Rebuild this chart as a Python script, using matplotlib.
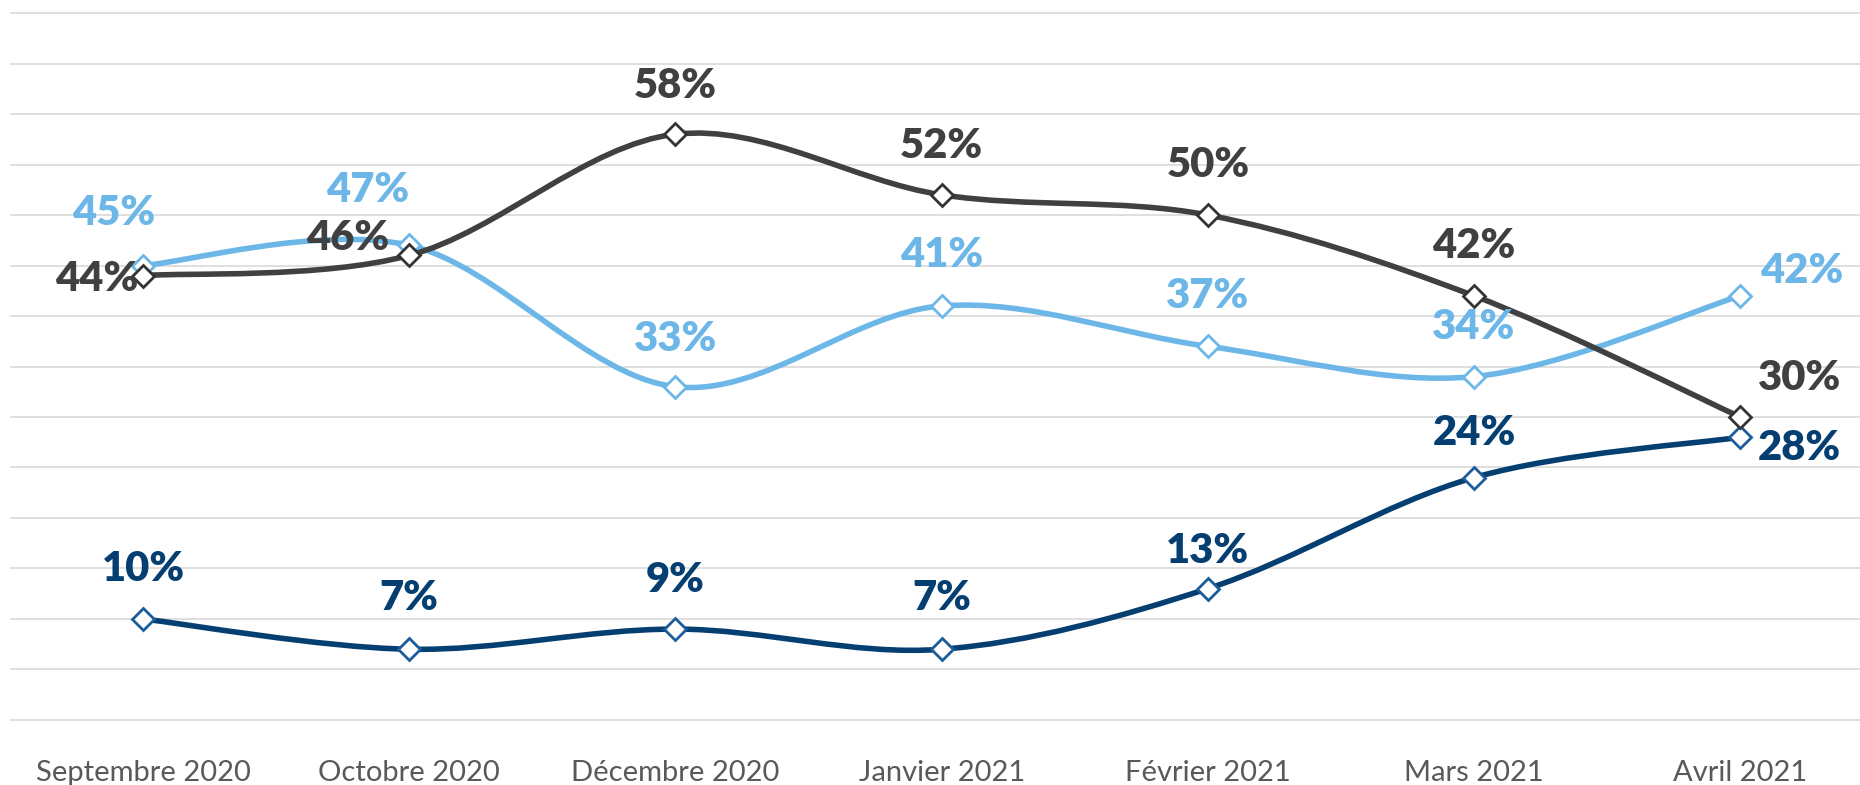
import numpy as np
import matplotlib.pyplot as plt
from matplotlib.path import Path
from matplotlib.patches import PathPatch


months = ['Septembre 2020', 'Octobre 2020', 'Décembre 2020', 'Janvier 2021',
          'Février 2021', 'Mars 2021', 'Avril 2021']
light_vals = [45, 47, 33, 41, 37, 34, 42]
gray_vals = [44, 46, 58, 52, 50, 42, 30]
navy_vals = [10, 7, 9, 7, 13, 24, 28]

light_col = '#6CB7E7'
gray_col = '#404040'
navy_col = '#053F72'
navy_edge = '#1A5C9C'

# label offsets in points (dx, dy)
k = 0.854
light_off = [(-25, 44), (-35, 47), (0, 40), (0, 43), (0, 42), (0, 42), (52, 21)]
gray_off = [(-39, -3), (-52, 15), (0, 41), (0, 41), (0, 42), (0, 42), (50, 33)]
navy_off = [(0, 42), (0, 43), (0, 41), (0, 43), (0, 32), (0, 38), (50, -9)]

plt.rcParams['font.family'] = ['Lato', 'DejaVu Sans']

fig = plt.figure(figsize=(18.6, 7.85), dpi=100)
ax = fig.add_axes([10 / 1860, 60 / 785, 1 - 10 / 1860, 717 / 785])

x = np.arange(len(months))


def smooth_path(xs, ys):
    # excel-like smoothed line, bezier segments through the points
    pts = np.column_stack([xs, ys]).astype(float)
    n = len(pts)
    verts = [pts[0]]
    codes = [Path.MOVETO]
    for i in range(n - 1):
        p0 = pts[max(i - 1, 0)]
        p1 = pts[i]
        p2 = pts[i + 1]
        p3 = pts[min(i + 2, n - 1)]
        c1 = p1 + (p2 - p0) / 6
        c2 = p2 - (p3 - p1) / 6
        verts += [c1, c2, p2]
        codes += [Path.CURVE4] * 3
    return Path(verts, codes)


series = [
    (light_vals, light_col, light_col, light_off, 2),
    (navy_vals, navy_col, navy_edge, navy_off, 3),
    (gray_vals, gray_col, '#333333', gray_off, 4),
]

for vals, col, edge, offs, z in series:
    patch = PathPatch(smooth_path(x, vals), facecolor='none', edgecolor=col,
                      lw=4.0, zorder=z, capstyle='round', joinstyle='round')
    ax.add_patch(patch)
    ax.plot(x, vals, linestyle='none', marker='D', ms=11.5, mfc='white',
            mec=edge, mew=2.0, zorder=z + 0.5)

for vals, col, edge, offs, z in series:
    for xi, v, (dx, dy) in zip(x, vals, offs):
        ax.annotate(f'{v}%', (xi, v), xytext=(dx * k, dy * k),
                    textcoords='offset points', ha='center', va='center',
                    fontsize=30, fontweight='heavy', color=col, zorder=10)

ax.set_xlim(-0.5, 6.45)
ax.set_ylim(-0.5, 70.5)
ax.set_yticks(np.arange(0, 71, 5))
ax.yaxis.grid(True, color='#D9D9D9', lw=1.2)
ax.set_axisbelow(True)
ax.set_yticklabels([])
ax.set_xticks(x)
ax.set_xticklabels(months, fontsize=21, color='#595959')
ax.tick_params(axis='both', length=0)
ax.tick_params(axis='x', pad=25)
for s in ax.spines.values():
    s.set_visible(False)

plt.savefig('out.png', dpi=100)
plt.close()
